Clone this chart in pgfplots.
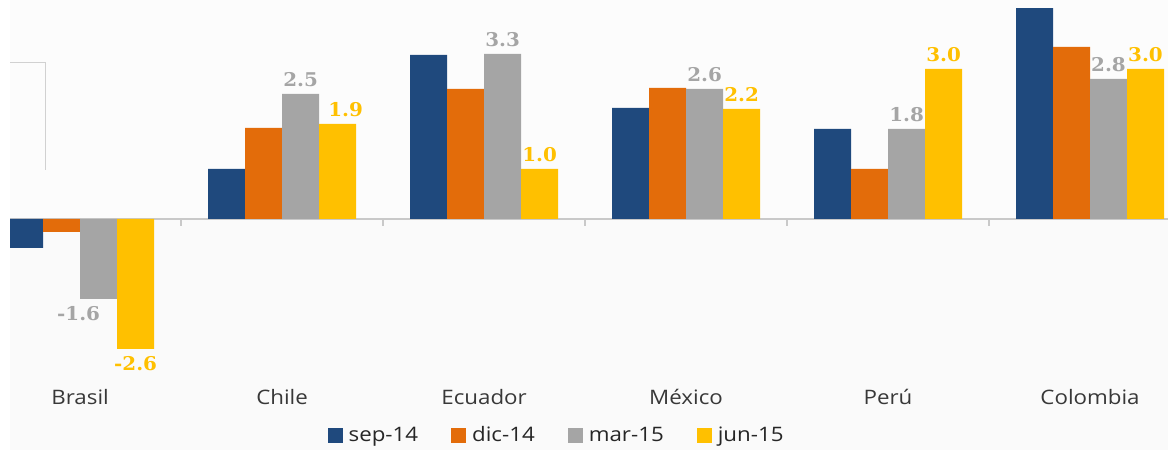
\documentclass[border=0pt]{standalone}
\usepackage{fontspec}
\setmainfont{Open Sans}[FakeStretch=1.12]
\newfontfamily\valuefont{DejaVu Serif}[FakeStretch=1.05]
\usepackage{pgfplots}
\usepackage{pgfplotstable}
\pgfplotsset{compat=1.18}

\definecolor{cSep}{HTML}{1F497D}
\definecolor{cDic}{HTML}{E36C0A}
\definecolor{cMar}{HTML}{A5A5A5}
\definecolor{cJun}{HTML}{FFC000}
\definecolor{zeroline}{HTML}{C9C9C9}

% growth by country (0 = Brasil ... 5 = Colombia)
\pgfplotstableread{
x   sep    dic    mar    jun
0  -0.58  -0.26  -1.6   -2.6
1   1.0    1.82   2.5    1.9
2   3.28   2.6    3.3    1.0
3   2.22   2.62   2.6    2.2
4   1.8    1.0    1.8    3.0
5   4.22   3.44   2.8    3.0
}\growth

\begin{document}
\begin{tikzpicture}
% faint backdrop of the plotting region
\fill[black!2] (10bp,-219bp) rectangle (1168bp,-450bp);
\fill[black!1] (10bp,0bp) rectangle (1168bp,-219bp);
\draw[black!18, line width=1bp] (10bp,-62bp) -- (45bp,-62bp) -- (45bp,-170bp);
\begin{axis}[
  at={(10bp,0bp)}, anchor=north west,
  scale only axis,
  width=1158bp, height=380bp,
  xmin=-0.347, xmax=5.386,
  ymin=-3.22, ymax=4.38,
  ybar=0pt, bar width=37bp,
  axis line style={draw=none},
  tick style={draw=none},
  major tick length=0pt,
  ytick=\empty,
  xtick={0,...,5},
  xticklabels={Brasil,Chile,Ecuador,México,Perú,Colombia},
  xticklabel style={anchor=base, yshift=-25bp, text=black!78,
    font=\fontsize{20}{24}\selectfont},
  extra y ticks={0},
  extra y tick labels={},
  extra y tick style={grid=major, major grid style={zeroline, line width=1.2bp}},
  clip=true,
  legend columns=4,
  legend style={at={(0.472,-0.145)}, anchor=center, draw=none, fill=none,
    font=\fontsize{20}{23}\selectfont, text=black!85,
    /tikz/every odd column/.append style={column sep=4bp},
    /tikz/every even column/.append style={column sep=31bp}},
  legend image code/.code={\fill[#1] (0bp,-7.5bp) rectangle (15bp,7.5bp);},
  /pgf/number format/assume math mode=true,
  nodes near coords style={font=\valuefont\bfseries\fontsize{19}{19}\selectfont,
    /pgf/number format/fixed, /pgf/number format/precision=1,
    /pgf/number format/fixed zerofill, inner ysep=7bp, inner xsep=0pt},
]
\addplot[fill=cSep, draw=none] table[x=x, y=sep] {\growth};
\addplot[fill=cDic, draw=none] table[x=x, y=dic] {\growth};
\addplot[fill=cMar, draw=none, nodes near coords,
  every node near coord/.append style={text=cMar},
  coordinate style/.condition={\coordindex==0}{xshift=-20bp}]
  table[x=x, y=mar] {\growth};
\addplot[fill=cJun, draw=none, nodes near coords,
  every node near coord/.append style={text=cJun},
  coordinate style/.condition={\coordindex==1}{xshift=8bp}]
  table[x=x, y=jun] {\growth};
\legend{sep-14, dic-14, mar-15, jun-15}
% separators between countries
\pgfplotsinvokeforeach{0.5,1.5,2.5,3.5,4.5}{
  \draw[zeroline, line width=1.2bp] (axis cs:#1,0) -- ([yshift=-7bp]axis cs:#1,0);
}
\end{axis}
\pgfresetboundingbox
\path[use as bounding box] (0,0) rectangle (1168bp,-450bp);
\end{tikzpicture}
\end{document}
